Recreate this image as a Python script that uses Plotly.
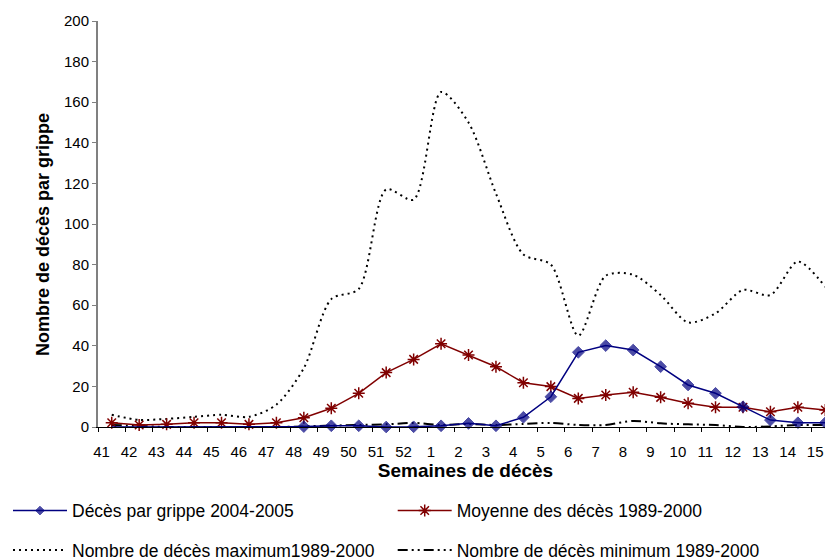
import plotly.graph_objects as go

weeks = ["41", "42", "43", "44", "45", "46", "47", "48", "49", "50", "51", "52",
         "1", "2", "3", "4", "5", "6", "7", "8", "9", "10", "11", "12", "13", "14", "15"]

grippe_2004_2005 = [0, 0, 0, 0, 0, 0, 0, 0.2, 0.6, 0.6, 0, 0.1,
                    0.6, 1.8, 0.6, 4.8, 14.9, 36.8, 40.1, 37.9, 29.7, 20.7, 16.6, 10, 3.4, 2.1, 2.1]
moyenne_1989_2000 = [2.1, 1.0, 1.3, 2.1, 2.1, 1.3, 2.1, 4.6, 9.2, 16.6, 26.8, 33.3,
                     41, 35.5, 29.7, 21.8, 19.9, 14.1, 15.8, 17.1, 14.6, 11.7, 9.7, 9.7, 7.5, 9.7, 8.4]
maximum_1989_2000 = [6, 3.5, 4, 5, 6, 5, 11, 29, 63, 68, 117, 112,
                     165, 150, 115, 85, 80, 45, 74.5, 75, 65, 51.5, 56, 67.5, 65, 81.5, 69]
minimum_1989_2000 = [1, 0.5, 0, 0, 0, 0, 0, 0.3, 0.7, 1, 1.3, 2,
                     1, 1.5, 1, 1.5, 2, 1, 1, 3, 1.8, 1.3, 1, 0, 0.3, 1, 1]

n = len(weeks)
xs = list(range(n))
FONT = "Liberation Sans, Arial, sans-serif"

fig = go.Figure()

fig.add_trace(go.Scatter(
    x=xs, y=maximum_1989_2000, mode="lines", name="Nombre de décès maximum1989-2000",
    line=dict(color="black", width=2, dash="2px,4px", shape="spline", smoothing=0.8),
    cliponaxis=False, legend="legend3"))
fig.add_trace(go.Scatter(
    x=xs, y=minimum_1989_2000, mode="lines", name="Nombre de décès minimum 1989-2000",
    line=dict(color="black", width=2, dash="10px,4px,2px,4px,2px,4px", shape="spline", smoothing=0.8),
    cliponaxis=False, legend="legend4"))
fig.add_trace(go.Scatter(
    x=xs, y=moyenne_1989_2000, mode="lines+markers", name="Moyenne des décès 1989-2000",
    line=dict(color="#800000", width=1.5),
    marker=dict(symbol="asterisk-open", size=10, color="#800000",
                line=dict(color="#800000", width=1.5)),
    cliponaxis=False, legend="legend2"))
fig.add_trace(go.Scatter(
    x=xs, y=grippe_2004_2005, mode="lines+markers", name="Décès par grippe 2004-2005",
    line=dict(color="#000080", width=1.5),
    marker=dict(symbol="diamond", size=[0 if i < 7 else 9 for i in xs], color="#000080",
                line=dict(color="#000080", width=1)),
    cliponaxis=False, legend="legend"))

LEG = dict(orientation="h", xref="container", yref="container", xanchor="left",
           yanchor="middle", font=dict(size=17.5, family=FONT), itemwidth=54,
           bgcolor="rgba(0,0,0,0)")

fig.update_layout(
    width=825, height=551,
    margin=dict(l=90, r=0, t=13, b=132),
    paper_bgcolor="white", plot_bgcolor="white",
    font=dict(family=FONT, color="black", size=15),
    legend=dict(LEG, x=0, y=0.0877),
    legend2=dict(LEG, x=0.4663, y=0.0877),
    legend3=dict(LEG, x=0, y=0.016),
    legend4=dict(LEG, x=0.4663, y=0.016),
    showlegend=True,
    annotations=[dict(
        text="<b>Nombre de décès par grippe</b>", textangle=-90,
        xref="paper", yref="paper", x=-0.0748, y=0.473,
        xanchor="center", yanchor="middle", showarrow=False,
        font=dict(size=18, family=FONT, color="black"))],
)

fig.update_xaxes(
    range=[-0.5, 26.28], automargin=False,
    tickmode="array", tickvals=[i - 0.37 for i in xs], ticktext=weeks,
    ticks="", ticklabelstandoff=11,
    showline=True, linecolor="black", linewidth=1,
    showgrid=False, zeroline=False,
    minor=dict(tickmode="array", tickvals=[i - 0.5 for i in range(n + 1)],
               ticks="outside", ticklen=4, tickcolor="black", tickwidth=1, showgrid=False),
    title=dict(text="<b>Semaines de décès</b>", font=dict(size=19, family=FONT), standoff=3),
    tickfont=dict(size=15),
)
fig.update_yaxes(
    range=[0, 200], tickmode="linear", tick0=0, dtick=20, automargin=False,
    ticks="outside", ticklen=4, tickcolor="#808080", tickwidth=1,
    showline=True, linecolor="#808080", linewidth=2,
    showgrid=False, zeroline=False,
    tickfont=dict(size=15),
)

fig.write_html("out.html")
